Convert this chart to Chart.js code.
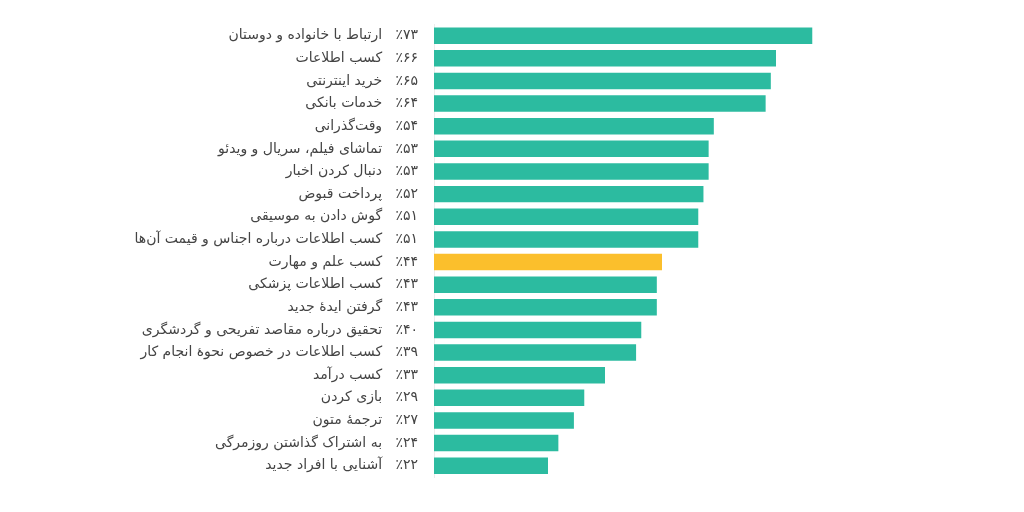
<!DOCTYPE html>
<html lang="fa">
<head>
<meta charset="utf-8">
<script src="https://cdn.jsdelivr.net/npm/chart.js@4"></script>
<style>
  html, body { margin: 0; padding: 0; background: #ffffff; }
  #wrap { width: 1024px; height: 512px; position: relative; }
  canvas { direction: rtl; }
</style>
</head>
<body>
<div id="wrap"><canvas id="c" dir="rtl" width="1024" height="512"></canvas></div>
<script>
const categories = [
  "ارتباط با خانواده و دوستان",
  "کسب اطلاعات",
  "خرید اینترنتی",
  "خدمات بانکی",
  "وقت‌گذرانی",
  "تماشای فیلم، سریال و ویدئو",
  "دنبال کردن اخبار",
  "پرداخت قبوض",
  "گوش دادن به موسیقی",
  "کسب اطلاعات درباره اجناس و قیمت آن‌ها",
  "کسب علم و مهارت",
  "کسب اطلاعات پزشکی",
  "گرفتن ایدهٔ جدید",
  "تحقیق درباره مقاصد تفریحی و گردشگری",
  "کسب اطلاعات در خصوص نحوهٔ انجام کار",
  "کسب درآمد",
  "بازی کردن",
  "ترجمهٔ متون",
  "به اشتراک گذاشتن روزمرگی",
  "آشنایی با افراد جدید"
];
const values = [73, 66, 65, 64, 54, 53, 53, 52, 51, 51, 44, 43, 43, 40, 39, 33, 29, 27, 24, 22];
const percentLabels = ["٪۷۳","٪۶۶","٪۶۵","٪۶۴","٪۵۴","٪۵۳","٪۵۳","٪۵۲","٪۵۱","٪۵۱","٪۴۴","٪۴۳","٪۴۳","٪۴۰","٪۳۹","٪۳۳","٪۲۹","٪۲۷","٪۲۴","٪۲۲"];
const highlightIndex = 10;

const barColors = values.map((v, i) => i === highlightIndex ? "#FBBF2C" : "#2CBBA0");

new Chart(document.getElementById("c"), {
  type: "bar",
  data: {
    labels: categories,
    datasets: [{
      data: values,
      backgroundColor: barColors,
      borderWidth: 0,
      barPercentage: 0.9,
      categoryPercentage: 0.81
    }]
  },
  options: {
    indexAxis: "y",
    responsive: false,
    animation: false,
    layout: { padding: { left: 0, right: 20, top: 22, bottom: 35 } },
    plugins: { legend: { display: false }, tooltip: { enabled: false } },
    scales: {
      x: {
        min: 0,
        max: 110,
        display: false,
        grid: { display: false }
      },
      y: {
        grid: { display: false, drawTicks: false },
        border: { display: true, color: "#ececec", width: 1 },
        afterFit: (s) => { s.width = 434; },
        ticks: {
          padding: 16,
          color: "#444444",
          font: { family: "DejaVu Sans", size: 14 },
          callback: function (v, i) { return percentLabels[i] + "   " + categories[i]; }
        }
      }
    }
  }
});
</script>
</body>
</html>
